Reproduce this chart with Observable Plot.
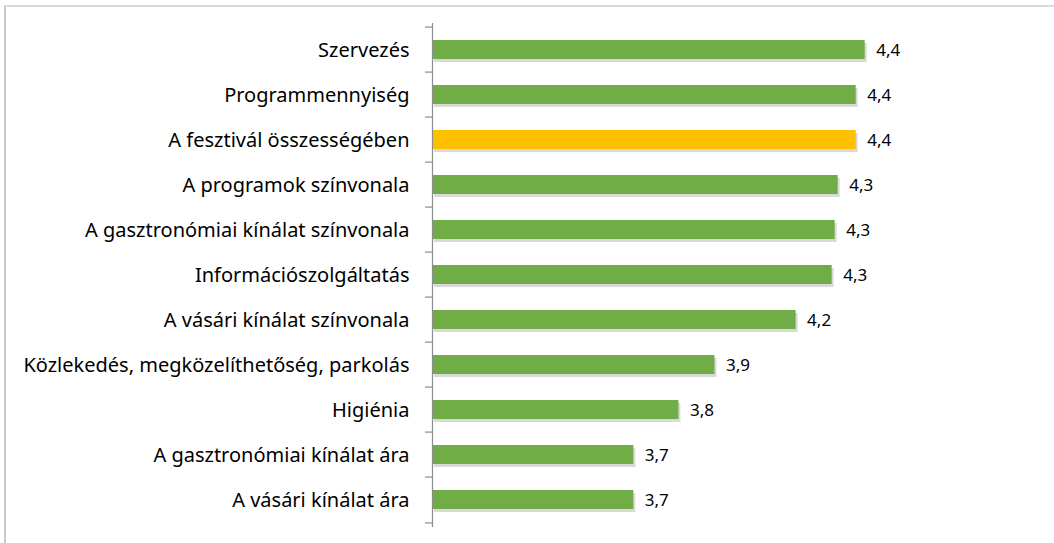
<!DOCTYPE html>
<html>
<head>
<meta charset="utf-8">
<script src="https://cdn.jsdelivr.net/npm/d3@7"></script>
<script src="https://cdn.jsdelivr.net/npm/@observablehq/plot@0.6"></script>
<style>
  html, body { margin: 0; padding: 0; background: #fff; }
  #wrap { position: relative; width: 1054px; height: 543px; overflow: hidden; }
  #border { position: absolute; left: 4px; top: 5px; width: 1060px; height: 600px;
            border-left: 2px solid #c8c8c8; border-top: 2px solid #dadada; box-sizing: border-box; }
  #chart { position: absolute; left: 0; top: 0; }
</style>
</head>
<body>
<div id="wrap"><div id="border"></div><div id="chart"></div></div>
<script>
const categories = [
  "Szervezés",
  "Programmennyiség",
  "A fesztivál összességében",
  "A programok színvonala",
  "A gasztronómiai kínálat színvonala",
  "Információszolgáltatás",
  "A vásári kínálat színvonala",
  "Közlekedés, megközelíthetőség, parkolás",
  "Higiénia",
  "A gasztronómiai kínálat ára",
  "A vásári kínálat ára"
];
const values = [4.44, 4.41, 4.41, 4.35, 4.34, 4.33, 4.21, 3.94, 3.82, 3.67, 3.67];
const valueLabels = ["4,4", "4,4", "4,4", "4,3", "4,3", "4,3", "4,2", "3,9", "3,8", "3,7", "3,7"];
const highlight = "A fesztivál összességében";

const data = categories.map((c, i) => ({cat: c, value: values[i], label: valueLabels[i]}));
const xMin = 3, xMax = 5;
const width = 1054, height = 543, marginLeft = 432, marginRight = 21, marginTop = 23, marginBottom = 16;
const pxPerUnit = (width - marginLeft - marginRight) / (xMax - xMin);
const step = (height - marginTop - marginBottom) / categories.length;
const tickLen = 7 / pxPerUnit;

const chart = Plot.plot({
  width, height, marginLeft, marginRight, marginTop, marginBottom,
  style: {fontFamily: "'Noto Sans', sans-serif", background: "transparent"},
  x: {domain: [xMin, xMax], axis: null},
  y: {domain: categories, paddingInner: 0.57, paddingOuter: 0.285, axis: null},
  marks: [
    // bar shadows
    Plot.barX(data, {x1: xMin, x2: "value", y: "cat", fill: "#000", fillOpacity: 0.15, dx: 2, dy: 3}),
    Plot.barX(data, {x1: xMin, x2: "value", y: "cat",
      fill: d => d.cat === highlight ? "#FFC000" : "#70AD47"}),
    // axis line
    Plot.ruleX([xMin], {stroke: "#8c8c8c", strokeWidth: 1.2}),
    // boundary ticks
    Plot.ruleY(categories, {y: d => d, x1: xMin - tickLen, x2: xMin, dy: -step / 2, stroke: "#8c8c8c", strokeWidth: 1.2}),
    Plot.ruleY([categories[categories.length - 1]], {y: d => d, x1: xMin - tickLen, x2: xMin, dy: step / 2, stroke: "#8c8c8c", strokeWidth: 1.2}),
    // category labels
    Plot.text(data, {x: xMin, y: "cat", text: "cat", textAnchor: "end", dx: -23, dy: 1, fontSize: 20, fill: "#000"}),
    // value labels
    Plot.text(data, {x: "value", y: "cat", text: "label", textAnchor: "start", dx: 11, dy: 1, fontSize: 17, fill: "#000"})
  ]
});
document.getElementById("chart").appendChild(chart);
</script>
</body>
</html>
